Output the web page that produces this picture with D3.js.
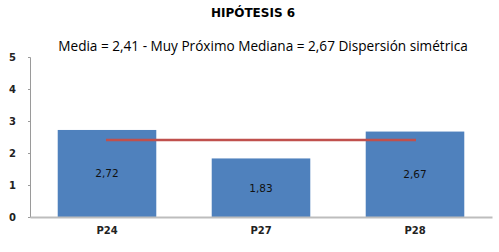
<!DOCTYPE html>
<html>
<head>
<meta charset="utf-8">
<script src="https://cdn.jsdelivr.net/npm/d3@7"></script>
<style>
  body { margin: 0; background: #fff; }
  svg { display: block; }
</style>
</head>
<body>
<div id="chart"></div>
<script>
// Chart data
const categories = ["P24", "P27", "P28"];
const values = [2.72, 1.83, 2.67];
const meanValue = 2.41;
const yTicks = [0, 1, 2, 3, 4, 5];
const title = "HIPÓTESIS 6";
const subtitle = "Media = 2,41 - Muy Próximo Mediana = 2,67 Dispersión simétrica";

const width = 499;
const height = 252;
const margin = { top: 57, right: 7, bottom: 35, left: 30 };

const fmt = v => v.toFixed(2).replace(".", ",");

const svg = d3.select("#chart")
    .append("svg")
    .attr("width", width)
    .attr("height", height);

const xScale = d3.scaleBand()
    .domain(categories)
    .range([margin.left, width - margin.right])
    .paddingInner(0.36)
    .paddingOuter(0.18);

const yScale = d3.scaleLinear()
    .domain([0, 5])
    .range([height - margin.bottom, margin.top]);

// Titles
svg.append("text")
    .attr("x", 253)
    .attr("y", 17)
    .attr("text-anchor", "middle")
    .style("font-family", "DejaVu Sans")
    .style("font-weight", "bold")
    .style("font-size", "12px")
    .text(title);

svg.append("text")
    .attr("x", 263)
    .attr("y", 51)
    .attr("text-anchor", "middle")
    .style("font-family", "Open Sans")
    .style("font-size", "13.6px")
    .text(subtitle);

// Bars
svg.selectAll(".bar")
    .data(values)
    .enter()
    .append("rect")
    .attr("class", "bar")
    .attr("x", (d, i) => xScale(categories[i]))
    .attr("y", d => yScale(d))
    .attr("width", xScale.bandwidth())
    .attr("height", d => yScale(0) - yScale(d))
    .attr("fill", "#4F81BD");

// Bar labels
svg.selectAll(".bar-label")
    .data(values)
    .enter()
    .append("text")
    .attr("class", "bar-label")
    .attr("x", (d, i) => xScale(categories[i]) + xScale.bandwidth() / 2)
    .attr("y", d => (yScale(d) + yScale(0)) / 2 + 4)
    .attr("text-anchor", "middle")
    .style("font-family", "DejaVu Sans")
    .style("font-size", "10.5px")
    .style("fill", "#111")
    .text(d => fmt(d));

// Mean line across band centres
const centres = categories.map(c => xScale(c) + xScale.bandwidth() / 2);
svg.append("line")
    .attr("x1", d3.min(centres) - 1)
    .attr("x2", d3.max(centres) + 1)
    .attr("y1", yScale(meanValue))
    .attr("y2", yScale(meanValue))
    .attr("stroke", "#C0504D")
    .attr("stroke-width", 2.5);

// Y axis
const yAxis = svg.append("g")
    .attr("transform", `translate(${margin.left}, 0)`)
    .call(d3.axisLeft(yScale).tickValues(yTicks).tickFormat(d3.format("d")).tickSize(2).tickPadding(12));
yAxis.select(".domain").attr("stroke", "#9a9a9a");
yAxis.selectAll(".tick line").attr("stroke", "#9a9a9a");
yAxis.selectAll(".tick text")
    .style("font-family", "DejaVu Sans")
    .style("font-weight", "bold")
    .style("font-size", "10px")
    .attr("fill", "#222");

// X axis
const xAxis = svg.append("g")
    .attr("transform", `translate(0, ${yScale(0)})`)
    .call(d3.axisBottom(xScale).tickSize(0).tickPadding(10));
xAxis.select(".domain").attr("stroke", "#bdbdbd").attr("stroke-width", 2);
xAxis.selectAll(".tick text")
    .style("font-family", "DejaVu Sans")
    .style("font-weight", "bold")
    .style("font-size", "10px")
    .attr("fill", "#222");
</script>
</body>
</html>
